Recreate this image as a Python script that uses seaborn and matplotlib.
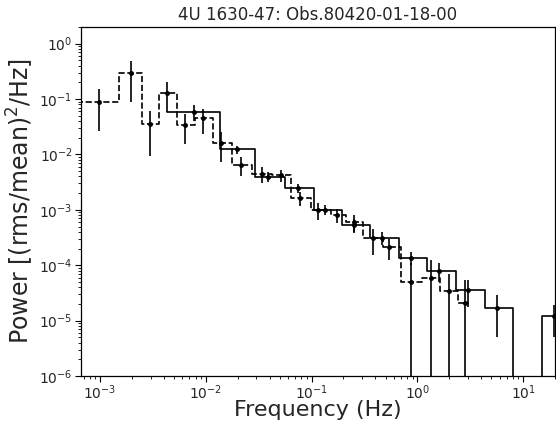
import numpy as np
import pandas as pd
import matplotlib
matplotlib.use("Agg")
import matplotlib.pyplot as plt
from matplotlib.ticker import NullFormatter
import seaborn as sns

# ---- data ----
title = "4U 1630-47: Obs.80420-01-18-00"
xlabel = "Frequency (Hz)"
ylabel = "Power [(rms/mean)$^2$/Hz]"

# dashed spectrum (fine binning)
dash_edges = [0.0005, 0.0015, 0.0025, 0.0036, 0.0053, 0.0079, 0.0116, 0.0177,
              0.0275, 0.042, 0.064, 0.098, 0.153, 0.212, 0.306, 0.468, 0.70,
              1.10, 1.65, 2.40, 3.09]
dash_freq = [0.000985, 0.00196, 0.00296, 0.0043, 0.00634, 0.0094, 0.01405,
             0.0213, 0.0336, 0.0517, 0.0782, 0.1146, 0.174, 0.254, 0.379,
             0.544, 0.872, 1.346, 1.97, 2.84]
dash_pow = [0.0902, 0.292, 0.0357, 0.1294, 0.0347, 0.0451, 0.01625, 0.00652,
            0.00446, 0.00419, 0.00163, 0.00098, 0.00082, 0.000596, 0.000306,
            0.000214, 5.0e-5, 6.0e-5, 3.4e-5, 2.04e-5]
dash_err = [0.064, 0.202, 0.0264, 0.0715, 0.0194, 0.0214, 0.009, 0.0024,
            0.00144, 0.00096, 0.00046, 0.00033, 0.00023, 0.0002, 0.000152,
            8.9e-5, 5.9e-5, 6.2e-5, 3.5e-5, 3.3e-5]

# solid spectrum (coarse binning)
solid_edges = [0.0043, 0.0137, 0.0294, 0.0564, 0.1044, 0.1925, 0.3587,
               0.6682, 1.236, 2.327, 4.36, 8.1, 15.0, 25.0]
solid_pow = [0.0596, 0.0123, 0.00394, 0.00249, 0.001, 0.000526, 0.000313,
             0.0001377, 7.88e-5, 3.55e-5, 1.7e-5, 0.0, 1.2e-5]
solid_pt_freq = [0.00776, 0.0195, 0.0387, 0.0743, 0.135, 0.251, 0.465,
                 0.872, 1.61, 3.0, 5.65, 19.5]
solid_pt_pow = [0.0596, 0.0123, 0.00394, 0.00249, 0.001, 0.000526, 0.000313,
                0.0001377, 7.88e-5, 3.55e-5, 1.7e-5, 1.2e-5]
solid_pt_err = [0.019, 0.0022, 0.0008, 0.00047, 0.0002, 0.00015, 8e-5,
                3.6e-5, 2.9e-5, 1.8e-5, 1.2e-5, 7e-6]

# ---- plotting ----
sns.set_style("ticks")
plt.rcParams["font.family"] = ["DejaVu Sans"]

fig = plt.figure(figsize=(5.56, 4.23), dpi=100)
ax = fig.add_axes([81 / 556, 47 / 423, 474 / 556, 349 / 423])

dash_df = pd.DataFrame({"f": dash_edges, "p": dash_pow + [dash_pow[-1]]})
solid_df = pd.DataFrame({"f": solid_edges, "p": solid_pow + [solid_pow[-1]]})

sns.lineplot(data=dash_df, x="f", y="p", ax=ax, color="black", lw=1.2,
             linestyle="--", drawstyle="steps-post", estimator=None, sort=False)
sns.lineplot(data=solid_df, x="f", y="p", ax=ax, color="black", lw=1.2,
             drawstyle="steps-post", estimator=None, sort=False)

ax.errorbar(dash_freq, dash_pow, yerr=dash_err, fmt="o", ms=2.5, color="black",
            ecolor="black", elinewidth=1.2, capsize=0)
ax.errorbar(solid_pt_freq, solid_pt_pow, yerr=solid_pt_err, fmt="o", ms=2.5,
            color="black", ecolor="black", elinewidth=1.2, capsize=0)

ax.set_xscale("log")
ax.set_yscale("log")
ax.set_xlim(6.6e-4, 20)
ax.set_ylim(1e-6, 2)
ax.xaxis.set_minor_formatter(NullFormatter())
ax.yaxis.set_minor_formatter(NullFormatter())

ax.set_title(title, fontsize=12, pad=5)
ax.set_xlabel(xlabel, fontsize=16, labelpad=-1.5)
ax.set_ylabel(ylabel, fontsize=17, labelpad=2)
ax.tick_params(axis="both", which="major", labelsize=10, length=4, color="black", pad=2)
ax.tick_params(axis="x", which="major", pad=1.5)
ax.tick_params(axis="both", which="minor", length=2, color="black")
for s in ax.spines.values():
    s.set_color("black")
    s.set_linewidth(0.9)

fig.savefig("out.png", dpi=100)
